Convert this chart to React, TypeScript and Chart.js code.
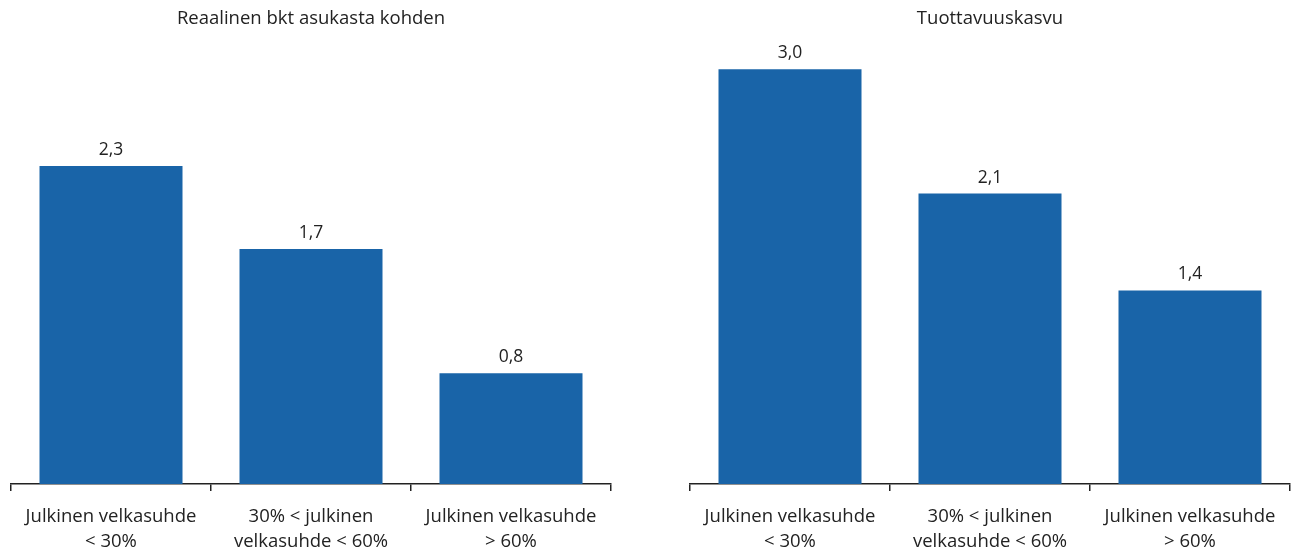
import React, { useEffect, useRef } from "react";
import { Chart, registerables } from "chart.js";

Chart.register(...registerables);

const categories: string[][] = [
  ["Julkinen velkasuhde", "< 30%"],
  ["30% < julkinen", "velkasuhde < 60%"],
  ["Julkinen velkasuhde", "> 60%"],
];
const gdpValues = [2.3, 1.7, 0.8];
const productivityValues = [3.0, 2.1, 1.4];
const titles = ["Reaalinen bkt asukasta kohden", "Tuottavuuskasvu"];

const FONT = "'Open Sans', 'Noto Sans', sans-serif";
const BAR = "#1964a8";
const TEXT = "#222222";

const overlayPlugin = (title: string) => ({
  id: "overlay",
  afterDatasetsDraw(chart: any) {
    const ctx = chart.ctx;
    ctx.save();
    ctx.fillStyle = TEXT;
    ctx.textAlign = "center";
    ctx.textBaseline = "middle";
    ctx.font = `18.5px ${FONT}`;
    const ca = chart.chartArea;
    ctx.fillText(title, (ca.left + ca.right) / 2, 19);
    ctx.font = `17.5px ${FONT}`;
    const meta = chart.getDatasetMeta(0);
    meta.data.forEach((el: any, i: number) => {
      const v = chart.data.datasets[0].data[i] as number;
      ctx.fillText(v.toFixed(1).replace(".", ","), el.x, el.y - 16);
    });
    ctx.restore();
  },
});

function BarPanel({ values, title, padLeft, padRight }: { values: number[]; title: string; padLeft: number; padRight: number }) {
  const ref = useRef<HTMLCanvasElement>(null);
  useEffect(() => {
    if (!ref.current) return;
    const chart = new Chart(ref.current, {
      type: "bar",
      data: {
        labels: categories,
        datasets: [
          {
            data: values,
            backgroundColor: BAR,
            borderWidth: 0,
            categoryPercentage: 1,
            barPercentage: 0.715,
          },
        ],
      },
      options: {
        responsive: false,
        animation: false,
        layout: { padding: { left: padLeft, right: padRight, top: 0, bottom: 0 } },
        plugins: { legend: { display: false }, title: { display: false }, tooltip: { enabled: false } },
        scales: {
          x: {
            offset: true,
            afterFit: (scale: any) => {
              scale.height = 66;
            },
            grid: {
              display: true,
              offset: true,
              drawOnChartArea: false,
              drawTicks: true,
              tickLength: 7,
              color: "#222",
              lineWidth: 1.5,
            },
            border: { display: true, color: "#222", width: 1.5 },
            ticks: {
              color: TEXT,
              padding: 13,
              maxRotation: 0,
              autoSkip: false,
              font: { family: FONT, size: 18.5, lineHeight: "25px" as any },
            },
          },
          y: {
            display: false,
            min: 0,
            max: 3.5,
          },
        },
      },
      plugins: [overlayPlugin(title)],
    });
    return () => chart.destroy();
  }, []);
  return <canvas ref={ref} width={647} height={550} style={{ display: "block", width: 647, height: 550 }} />;
}

export default function App() {
  return (
    <div style={{ position: "absolute", left: 0, top: 0, width: 1294, height: 550, overflow: "hidden", background: "#fff" }}>
      <div style={{ position: "absolute", left: 0, top: 0 }}>
        <BarPanel values={gdpValues} title={titles[0]} padLeft={11} padRight={36} />
      </div>
      <div style={{ position: "absolute", left: 647, top: 0 }}>
        <BarPanel values={productivityValues} title={titles[1]} padLeft={43} padRight={4} />
      </div>
    </div>
  );
}
